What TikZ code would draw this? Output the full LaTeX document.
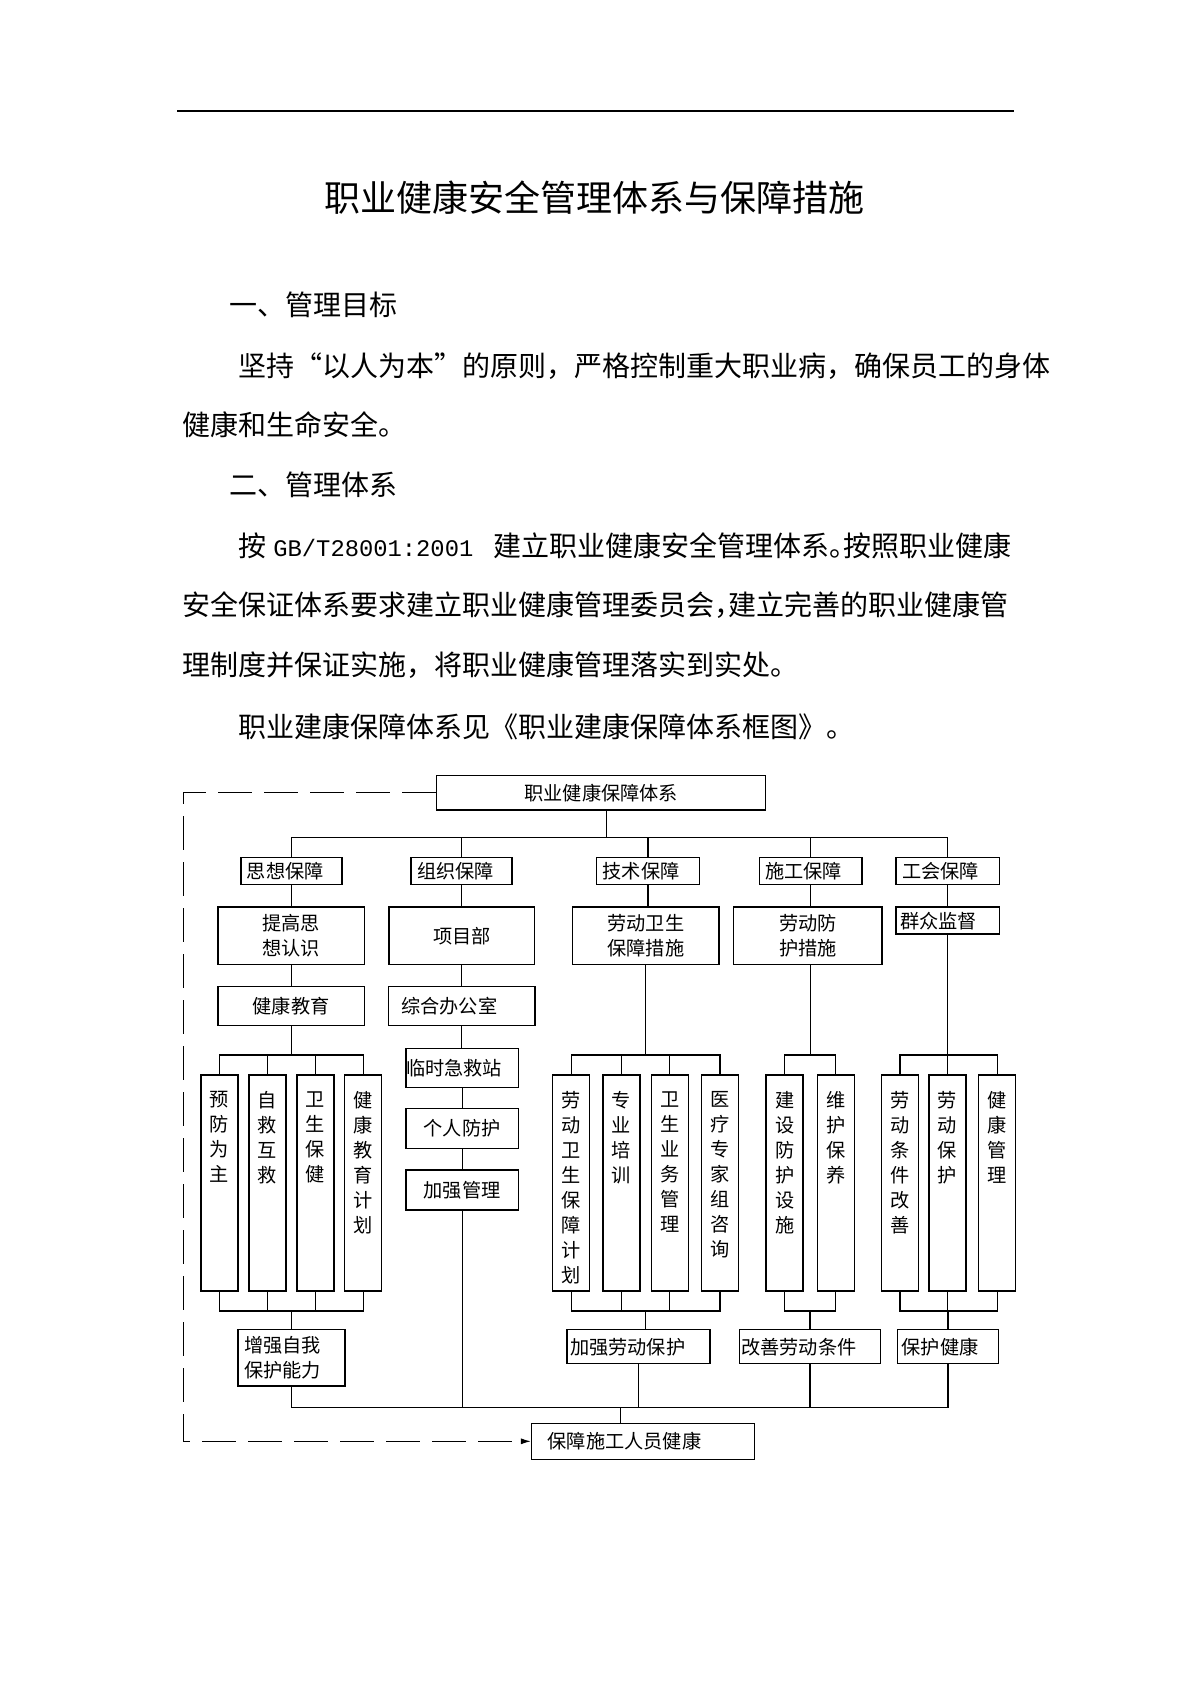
\documentclass[tikz,border=0pt]{standalone}
\usepackage{fontspec}
\setmainfont{Noto Sans CJK SC}
\newfontfamily\latinmono{Liberation Mono}
\usetikzlibrary{arrows.meta}
\tikzset{
  every node/.style={inner sep=0pt},
  oneline/.style={text height=.88em, text depth=.12em},
  txt/.style={anchor=west, oneline, font=\fontsize{14pt}{17pt}\selectfont},
  bx/.style={draw, line width=.75pt, font=\fontsize{9.6pt}{12.5pt}\selectfont},
  lbx/.style={bx, align=left, inner xsep=3pt},
  vbx/.style={draw, line width=.75pt, minimum width=18.5pt, minimum height=108pt},
  vtxt/.style={anchor=north, align=center, yshift=-8.5pt, font=\fontsize{9.6pt}{12.5pt}\selectfont},
  ln/.style={line width=.6pt},
  dashline/.style={line width=.6pt, dash pattern=on 17pt off 6pt},
}
\begin{document}
\begin{tikzpicture}[x=0.5pt,y=-0.5pt]
\path[use as bounding box, fill=white] (0,0) rectangle (1191,1684);
\draw[line width=1pt] (177,111) -- (1014,111);
\node[oneline, font=\fontsize{18pt}{22pt}\selectfont] (title) at (594.5,204) {职业健康安全管理体系与保障措施};
\node[txt] (h1) at (229,308) {一、管理目标};
\node[txt] (p1) at (238,369) {坚持\makebox[14pt][r]{“}以人为本\makebox[14pt][l]{”}的原则，严格控制重大职业病，确保员工的身体};
\node[txt] (p2) at (182,428) {健康和生命安全。};
\node[txt] (h2) at (229,488) {二、管理体系};
\node[txt] (p3) at (238,549) {按};
\node[txt, font=\latinmono\fontsize{11.9pt}{14pt}\selectfont] (gb) at (273,549) {GB/T28001:2001};
\node[txt] (p3b) at (493,549) {建立职业健康安全管理体系\makebox[7pt][l]{。}按照职业健康};
\node[txt] (p4) at (182,608) {安全保证体系要求建立职业健康管理委员会\makebox[7pt][l]{，}建立完善的职业健康管};
\node[txt] (p5) at (182,668) {理制度并保证实施，将职业健康管理落实到实处。};
\node[txt] (p6) at (238,730) {职业建康保障体系见《职业建康保障体系框图》。};

\coordinate (bus) at (0,837.7);
\coordinate (ub) at (0,1055);
\coordinate (lb) at (0,1311);
\coordinate (bb) at (0,1407.3);
\coordinate (dl) at (183.4,0);

\node[bx, oneline, minimum width=164.5pt, minimum height=17.15pt] (top) at (601.2,792.85) {职业健康保障体系};
\node[lbx, oneline, text width=44.5pt, minimum height=13.3pt] (sx) at (291.3,871) {思想保障};
\node[lbx, oneline, text width=44.35pt, minimum height=13.3pt] (zz) at (461.45,871) {组织保障};
\node[lbx, oneline, text width=45.3pt, minimum height=13.3pt] (js) at (648,871) {技术保障};
\node[lbx, oneline, text width=45.35pt, minimum height=13.3pt] (sg) at (810.65,871) {施工保障};
\node[lbx, oneline, text width=45.65pt, minimum height=13.3pt] (gh) at (947.65,871) {工会保障};

\node[bx, align=center, minimum width=73.3pt, minimum height=28.65pt] (tg) at (291.1,935.65) {提高思\\想认识};
\node[bx, oneline, minimum width=72.9pt, minimum height=28.65pt] (xm) at (461.8,935.65) {项目部};
\node[bx, align=center, minimum width=73.15pt, minimum height=28.65pt] (ld) at (645.85,935.65) {劳动卫生\\保障措施};
\node[bx, align=center, minimum width=74.15pt, minimum height=28.65pt] (lf) at (807.85,935.65) {劳动防\\护措施};
\node[lbx, oneline, inner xsep=2pt, text width=47.65pt, minimum height=13.5pt] (qz) at (947.65,920.5) {群众监督};

\node[bx, oneline, minimum width=73.3pt, minimum height=19.5pt] (jk) at (291.1,1006.2) {健康教育};
\node[lbx, oneline, inner xsep=6.5pt, text width=60.35pt, minimum height=19.5pt] (zh) at (461.65,1006.2) {综合办公室};
\node[lbx, oneline, inner xsep=0pt, text width=56.15pt, minimum height=19.5pt] (lj) at (462.15,1067.8) {临时急救站};
\node[bx, oneline, minimum width=56.15pt, minimum height=20pt] (gr) at (462.15,1128.3) {个人防护};
\node[bx, oneline, minimum width=56.15pt, minimum height=20pt] (jg) at (462.15,1190) {加强管理};

\node[vbx] (a1) at (219.35,1183) {};
\node[vtxt] at (a1.north) {预\\防\\为\\主};
\node[vbx] (a2) at (267.35,1183) {};
\node[vtxt] at (a2.north) {自\\救\\互\\救};
\node[vbx] (a3) at (315.35,1183) {};
\node[vtxt] at (a3.north) {卫\\生\\保\\健};
\node[vbx] (a4) at (363.15,1183) {};
\node[vtxt] at (a4.north) {健\\康\\教\\育\\计\\划};
\node[vbx] (b1) at (571.15,1183) {};
\node[vtxt] at (b1.north) {劳\\动\\卫\\生\\保\\障\\计\\划};
\node[vbx] (b2) at (621.3,1183) {};
\node[vtxt] at (b2.north) {专\\业\\培\\训};
\node[vbx] (b3) at (669.85,1183) {};
\node[vtxt] at (b3.north) {卫\\生\\业\\务\\管\\理};
\node[vbx] (b4) at (720,1183) {};
\node[vtxt] at (b4.north) {医\\疗\\专\\家\\组\\咨\\询};
\node[vbx] (c1) at (784.65,1183) {};
\node[vtxt] at (c1.north) {建\\设\\防\\护\\设\\施};
\node[vbx] (c2) at (835.85,1183) {};
\node[vtxt] at (c2.north) {维\\护\\保\\养};
\node[vbx] (d1) at (900,1183) {};
\node[vtxt] at (d1.north) {劳\\动\\条\\件\\改\\善};
\node[vbx] (d2) at (947.35,1183) {};
\node[vtxt] at (d2.north) {劳\\动\\保\\护};
\node[vbx] (d3) at (997.15,1183) {};
\node[vtxt] at (d3.north) {健\\康\\管\\理};

\node[lbx, text width=47.4pt, minimum height=28.15pt] (zq) at (291.5,1357.85) {增强自我\\保护能力};
\node[lbx, oneline, inner xsep=1.5pt, text width=68.5pt, minimum height=16.8pt] (jl) at (638.5,1346.5) {加强劳动保护};
\node[lbx, oneline, inner xsep=1pt, text width=68.7pt, minimum height=16.8pt] (gs) at (810,1346.5) {改善劳动条件};
\node[lbx, oneline, inner xsep=2pt, text width=46.3pt, minimum height=16.8pt] (bh) at (948,1346.5) {保护健康};
\node[lbx, oneline, inner xsep=8pt, text width=95.35pt, minimum height=18pt] (bz) at (643.05,1441.3) {保障施工人员健康};

\coordinate (tb) at ([xshift=2.5pt]top.south);
\coordinate (bzt) at ([xshift=-11.25pt]bz.north);
\draw[ln] (tb) -- (tb |- bus);
\draw[ln] (sx.north) |- (gh.north |- bus) -- (gh.north);
\draw[ln] (zz.north) -- (zz.north |- bus);
\draw[ln] (js.north) -- (js.north |- bus);
\draw[ln] (sg.north) -- (sg.north |- bus);

\draw[ln] (sx.south) -- (sx.south |- tg.north);
\draw[ln] (tg.south) -- (tg.south |- jk.north);
\draw[ln] (jk.south) -- (jk.south |- ub);
\draw[ln] (a1.north) |- (a4.north |- ub) -- (a4.north);
\draw[ln] (a2.north) -- (a2.north |- ub);
\draw[ln] (a3.north) -- (a3.north |- ub);
\draw[ln] (a1.south) |- (a4.south |- lb) -- (a4.south);
\draw[ln] (a2.south) -- (a2.south |- lb);
\draw[ln] (a3.south) -- (a3.south |- lb);
\draw[ln] (zq.north) -- (zq.north |- lb);

\draw[ln] (zz.south) -- (zz.south |- xm.north);
\draw[ln] (xm.south) -- (xm.south |- zh.north);
\draw[ln] (zh.south) -- (zh.south |- lj.north);
\draw[ln] (lj.south) -- (lj.south |- gr.north);
\draw[ln] (gr.south) -- (gr.south |- jg.north);
\draw[ln] (jg.south) -- (jg.south |- bb);

\draw[ln] (js.south) -- (js.south |- ld.north);
\draw[ln] (ld.south) -- (ld.south |- ub);
\draw[ln] (b1.north) |- (b4.north |- ub) -- (b4.north);
\draw[ln] (b2.north) -- (b2.north |- ub);
\draw[ln] (b3.north) -- (b3.north |- ub);
\draw[ln] (b1.south) |- (b4.south |- lb) -- (b4.south);
\draw[ln] (b2.south) -- (b2.south |- lb);
\draw[ln] (b3.south) -- (b3.south |- lb);
\draw[ln] (ld.south |- lb) -- (ld.south |- jl.north);

\draw[ln] (sg.south) -- (sg.south |- lf.north);
\draw[ln] (sg.south |- lf.south) -- (sg.south |- ub);
\draw[ln] (c1.north) |- (c2.north |- ub) -- (c2.north);
\draw[ln] (c1.south) |- (c2.south |- lb) -- (c2.south);
\draw[ln] (gs.north) -- (gs.north |- lb);

\draw[ln] (gh.south) -- (gh.south |- qz.north);
\draw[ln] (qz.south) -- (qz.south |- ub);
\draw[ln] (d1.north) |- (d3.north |- ub) -- (d3.north);
\draw[ln] (d2.north) -- (d2.north |- ub);
\draw[ln] (d1.south) |- (d3.south |- lb) -- (d3.south);
\draw[ln] (d2.south) -- (d2.south |- lb);
\draw[ln] (bh.north) -- (bh.north |- lb);

\draw[ln] (zq.south) |- (bh.south |- bb) -- (bh.south);
\draw[ln] (jl.south) -- (jl.south |- bb);
\draw[ln] (gs.south) -- (gs.south |- bb);
\draw[ln] (bzt |- bb) -- (bzt);

\draw[dashline, -{Latex[length=5pt,width=3pt]}] (top.west) -- (top.west -| dl) |- (bz.west);
\end{tikzpicture}
\end{document}
